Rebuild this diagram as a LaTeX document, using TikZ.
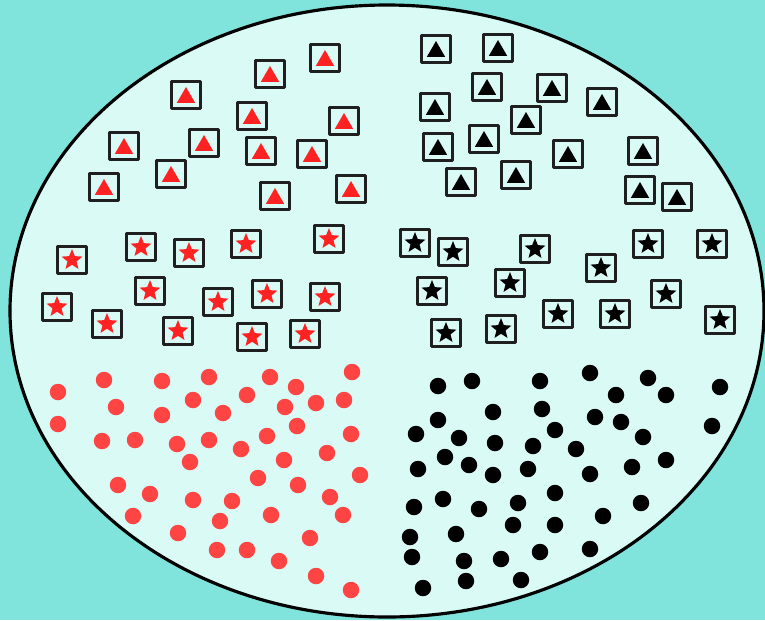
\documentclass[tikz,border=0pt]{standalone}
\usepackage{tikz}
\usetikzlibrary{shapes, shapes.geometric}
\usepackage{xcolor}
\definecolor{poolteal}{RGB}{128, 228, 220}
\definecolor{palecyan}{RGB}{218, 250, 246}
\definecolor{brightred}{RGB}{255, 34, 34}
\definecolor{dotred}{RGB}{255, 68, 68}

\begin{document}
\begin{tikzpicture}[x=0.02cm, y=-0.02cm, line cap=round, line join=round,
	framebox/.style={draw=black!88, line width=1.2pt, fill=palecyan, minimum width=0.58cm, minimum height=0.54cm, inner sep=0pt},
	trimark/.style={regular polygon, regular polygon sides=3, minimum size=0.42cm, inner sep=0pt, yshift=-0.05cm},
	starmark/.style={star, star points=5, star point ratio=2.3, minimum size=0.44cm, inner sep=0pt},
	dotmark/.style={circle, minimum size=0.33cm, inner sep=0pt}]
	% background and the set
	\fill[poolteal] (0,0) rectangle (765,620);
	\useasboundingbox (0,0) rectangle (765,620);
	\draw[line width=1.8pt, fill=palecyan] (387,311) ellipse [x radius=377, y radius=306];

	% red triangles
	\foreach \x/\y [count=\i] in {325/58, 270/74, 186/95, 252/116, 344/121, 124/146, 204/143,
		261/151, 312/154, 171/174, 104/187, 275/196, 351/189}
	{
		\node[framebox] (rt\i) at (\x,\y) {};
		\node[trimark, fill=brightred] (rt\i-in) at (rt\i) {};
	}

	% black triangles
	\foreach \x/\y [count=\i] in {436/49, 498/48, 487/87, 552/88, 602/102, 435/107, 526/120, 438/147,
		484/139, 568/154, 643/151, 461/182, 516/175, 640/190, 677/197}
	{
		\node[framebox] (bt\i) at (\x,\y) {};
		\node[trimark, fill=black] (bt\i-in) at (bt\i) {};
	}

	% red stars
	\foreach \x/\y [count=\i] in {72/260, 141/247, 189/253, 246/244, 329/239, 57/307, 150/291,
		218/302, 267/294, 325/297, 107/324, 178/331, 252/337, 305/334}
	{
		\node[framebox] (rs\i) at (\x,\y) {};
		\node[starmark, fill=brightred] (rs\i-in) at (rs\i) {};
	}

	% black stars
	\foreach \x/\y [count=\i] in {415/243, 453/252, 535/249, 648/244, 712/244, 601/268, 432/291,
		510/283, 666/294, 558/314, 615/314, 720/320, 446/333, 501/329}
	{
		\node[framebox] (bs\i) at (\x,\y) {};
		\node[starmark, fill=black] (bs\i-in) at (bs\i) {};
	}

	% red dots
	\foreach \x/\y [count=\i] in {58/392, 58/424, 104/380, 116/407, 102/441, 135/440, 162/381,
		162/415, 193/400, 209/377, 223/413, 247/395, 270/377, 296/387, 285/407, 316/403, 344/400,
		352/372, 177/444, 209/440, 190/462, 241/449, 267/436, 297/426, 351/434, 284/460, 327/453,
		258/478, 360/475, 118/485, 150/494, 133/516, 193/500, 232/501, 298/485, 330/497, 343/515,
		271/515, 220/521, 178/533, 217/550, 247/550, 279/561, 310/538, 316/576, 351/590}
		\node[dotmark, fill=dotred] (rd\i) at (\x,\y) {};

	% black dots
	\foreach \x/\y [count=\i] in {438/386, 472/381, 540/381, 590/373, 648/378, 616/395, 666/395,
		720/387, 712/426, 438/420, 493/412, 542/409, 595/417, 621/422, 416/434, 459/438, 495/443,
		555/430, 533/446, 576/449, 643/437, 666/460, 445/457, 469/465, 418/469, 493/475, 528/469,
		590/474, 632/467, 555/493, 443/499, 414/507, 479/509, 518/503, 603/516, 641/503, 513/525,
		555/525, 456/534, 410/537, 412/557, 464/561, 501/559, 540/552, 590/549, 423/588, 466/581,
		521/580}
		\node[dotmark, fill=black] (bd\i) at (\x,\y) {};
\end{tikzpicture}
\end{document}
